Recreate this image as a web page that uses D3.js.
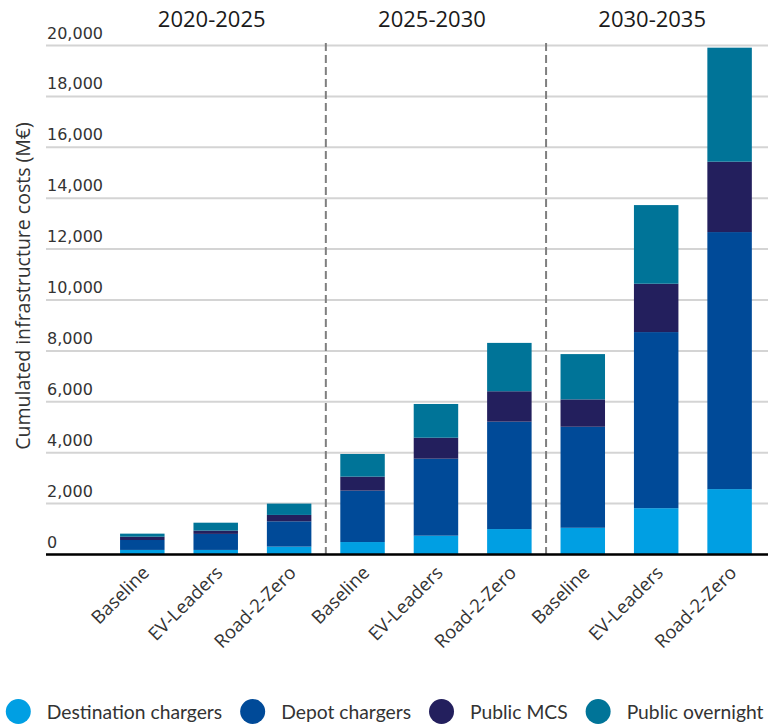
<!DOCTYPE html>
<html>
<head>
<meta charset="utf-8">
<script src="https://cdn.jsdelivr.net/npm/d3@7"></script>
<style>
  html, body { margin: 0; padding: 0; background: #fff; }
  svg { display: block; }
</style>
</head>
<body>
<svg id="chart" width="768" height="725"></svg>
<script>
// Periods and scenarios along the x axis
const periods = ["2020-2025", "2025-2030", "2030-2035"];
const scenarios = ["Baseline", "EV-Leaders", "Road-2-Zero"];

// Cumulated infrastructure costs (M€), one value per period × scenario
const destinationChargers = [160, 160, 290, 470, 720, 980, 1030, 1800, 2550];
const depotChargers = [390, 630, 995, 2020, 3025, 4220, 3970, 6920, 10100];
const publicMCS = [130, 130, 250, 550, 825, 1195, 1075, 1900, 2765];
const publicOvernight = [120, 310, 445, 890, 1325, 1900, 1780, 3090, 4480];

const seriesNames = ["Destination chargers", "Depot chargers", "Public MCS", "Public overnight"];
const seriesColors = ["#009fe3", "#004a98", "#231f5d", "#007498"];
const yTicks = [0, 2000, 4000, 6000, 8000, 10000, 12000, 14000, 16000, 18000, 20000];

// Build rows for the stack layout
const rows = [];
periods.forEach((p, pi) => {
  scenarios.forEach((s, si) => {
    const i = pi * scenarios.length + si;
    rows.push({
      key: p + "|" + s, period: p, scenario: s,
      "Destination chargers": destinationChargers[i],
      "Depot chargers": depotChargers[i],
      "Public MCS": publicMCS[i],
      "Public overnight": publicOvernight[i]
    });
  });
});

const svg = d3.select("#chart");
const W = 768;
const gridLeft = 46;
const y0 = 554, yTop = 45;

const x = d3.scaleBand()
  .domain(rows.map(d => d.key))
  .range([105.6, 766.3])
  .paddingInner(0.394)
  .paddingOuter(0.197);

const y = d3.scaleLinear().domain([0, 20000]).range([y0, yTop]);

const color = d3.scaleOrdinal().domain(seriesNames).range(seriesColors);

// Gridlines and value labels (labels sit just above each line)
const yAxis = d3.axisRight(y)
  .tickValues(yTicks)
  .tickSize(W - gridLeft)
  .tickFormat(d3.format(","));

const gy = svg.append("g")
  .attr("transform", `translate(${gridLeft},0)`)
  .call(yAxis);
gy.select(".domain").remove();
gy.selectAll(".tick line").attr("stroke", "#d4d4d4").attr("stroke-width", 2);
gy.selectAll(".tick text")
  .attr("x", 1)
  .attr("dy", null)
  .attr("y", -7)
  .attr("text-anchor", "start")
  .attr("fill", "#333")
  .style("font-family", "'DejaVu Sans', Verdana, sans-serif")
  .style("font-size", "16px");

// Stacked bars
const stack = d3.stack().keys(seriesNames);
const layers = stack(rows);

svg.append("g")
  .selectAll("g")
  .data(layers)
  .join("g")
  .attr("fill", d => color(d.key))
  .selectAll("rect")
  .data(d => d)
  .join("rect")
  .attr("x", d => x(d.data.key))
  .attr("width", x.bandwidth())
  .attr("y", d => y(d[1]))
  .attr("height", d => y(d[0]) - y(d[1]));

// Dashed dividers between periods
const dividers = periods.slice(1).map((p, i) => {
  const lastPrev = periods[i] + "|" + scenarios[scenarios.length - 1];
  const firstNext = p + "|" + scenarios[0];
  return (x(lastPrev) + x.bandwidth() + x(firstNext)) / 2;
});
svg.append("g")
  .selectAll("line")
  .data(dividers)
  .join("line")
  .attr("x1", d => d).attr("x2", d => d)
  .attr("y1", 43).attr("y2", y0)
  .attr("stroke", "#7f7f7f")
  .attr("stroke-width", 2)
  .attr("stroke-dasharray", "8,4");

// Baseline axis
svg.append("line")
  .attr("x1", gridLeft).attr("x2", W)
  .attr("y1", y0 + 0.5).attr("y2", y0 + 0.5)
  .attr("stroke", "#000")
  .attr("stroke-width", 2.5);

// Period titles
svg.append("g")
  .selectAll("text")
  .data(periods)
  .join("text")
  .attr("x", p => {
    const a = x(p + "|" + scenarios[0]);
    const b = x(p + "|" + scenarios[scenarios.length - 1]) + x.bandwidth();
    return (a + b) / 2 - 4;
  })
  .attr("y", 27)
  .attr("text-anchor", "middle")
  .attr("fill", "#1a1a1a")
  .style("font-family", "'Open Sans', sans-serif")
  .style("font-size", "22px")
  .text(p => p);

// Rotated scenario labels
svg.append("g")
  .selectAll("text")
  .data(rows)
  .join("text")
  .attr("transform", d => `translate(${x(d.key) + x.bandwidth() / 2 + 8},574) rotate(-45)`)
  .attr("text-anchor", "end")
  .attr("fill", "#333")
  .style("font-family", "'Open Sans', sans-serif")
  .style("font-size", "18.5px")
  .text(d => d.scenario);

// Y axis title
svg.append("text")
  .attr("transform", "translate(30,286) rotate(-90)")
  .attr("text-anchor", "middle")
  .attr("fill", "#333")
  .style("font-family", "'Open Sans', sans-serif")
  .style("font-size", "19.5px")
  .text("Cumulated infrastructure costs (M€)");

// Legend
const legend = svg.append("g");
let cx = 18.3;
seriesNames.forEach(name => {
  legend.append("circle")
    .attr("cx", cx).attr("cy", 711.5).attr("r", 12.5)
    .attr("fill", color(name));
  const t = legend.append("text")
    .attr("x", cx + 28.5).attr("y", 718.5)
    .attr("fill", "#333")
    .style("font-family", "Lato, sans-serif")
    .style("font-size", "19.3px")
    .text(name);
  cx = cx + 28.5 + t.node().getComputedTextLength() + 30.5;
});
</script>
</body>
</html>
